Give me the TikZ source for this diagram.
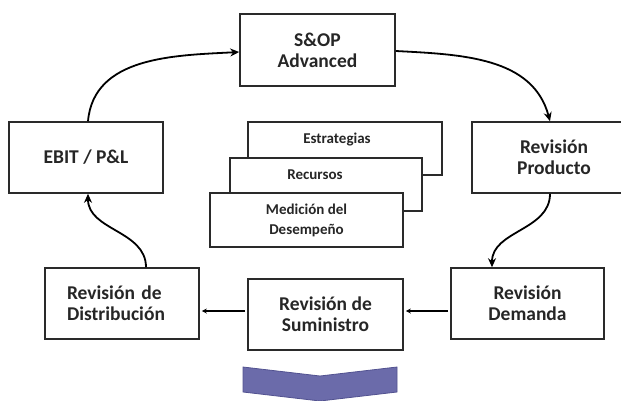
\documentclass[tikz,border=0pt]{standalone}
\usepackage{fontspec}
\setmainfont{Carlito}
\usepackage{xcolor}
\usetikzlibrary{arrows.meta,positioning}
\definecolor{boxline}{HTML}{2A2A2A}
\definecolor{chevfill}{HTML}{6B6BAA}
\definecolor{chevline}{HTML}{525290}

\begin{document}
\begin{tikzpicture}[
  x=1pt, y=-1pt,
  stage/.style={draw=boxline, line width=1.6pt, fill=white, align=center,
    minimum width=154pt, minimum height=71pt, inner sep=0pt,
    font=\fontsize{19.5}{21}\selectfont\bfseries, text=black!85},
  layer/.style={draw=boxline, line width=1.6pt, fill=white, align=center,
    minimum width=193pt, minimum height=53pt, inner sep=0pt,
    font=\fontsize{15}{20}\selectfont\bfseries, text=black!85},
  layertext/.style={font=\fontsize{15}{20}\selectfont\bfseries, text=black!85},
  flow/.style={line width=1.8pt, -{Stealth[length=9pt,width=8pt]}},
  back/.style={line width=1.8pt, -{Stealth[length=5pt,width=5pt]},
    shorten >=2pt, shorten <=2pt}
]
\clip (0,0) rectangle (621,400);
% main cycle
\node[stage, minimum width=155pt, minimum height=72pt] (sop) at (317.5,50) {S\&OP\\Advanced};
\node[stage] (ebit) at (86,157.5) {EBIT / P\&L};
\node[stage, minimum width=164pt] (prod) at (554,157.5) {Revisión\\Producto};
\node[stage, align=left, text width=110pt] (dist) at (122,303.5) {Revisión de\\Distribución};
\node[stage, minimum width=155pt] (sumi) at (325.5,314.5) {Revisión de\\Suministro};
\node[stage, minimum width=153pt] (dem) at (527.5,303.5) {Revisión\\Demanda};

% stacked layers in the middle
\node[layer, minimum width=194pt] (estr) at (345,148.5) {};
\node[layertext] (estrtxt) at (337,140) {Estrategias};
\node[layer, minimum width=192pt] (recu) at (326,184.5) {};
\node[layertext] (recutxt) at (315,175) {Recursos};
\node[layer, minimum height=54pt] (medi) at (306.5,220) {Medición del\\Desempeño};

\draw[flow] ([xshift=2pt]ebit.north) to[out=85,in=183] ([yshift=-2pt]sop.west);
\draw[flow] ([yshift=-1pt]sop.east) to[out=-3,in=105] ([xshift=-4pt]prod.north);
\draw[flow] ([xshift=-4pt]prod.south) to[out=-90,in=90] ([xshift=-35.5pt]dem.north);
\draw[back] ([yshift=-7.5pt]dem.west) -- ([yshift=-7.5pt]dem.west -| sumi.east);
\draw[back] ([yshift=3.5pt]sumi.west) -- ([yshift=3.5pt]sumi.west -| dist.east);
\draw[flow] ([xshift=24pt]dist.north) to[out=90,in=-90] ([xshift=2pt]ebit.south);

% chevron below
\draw[chevline, fill=chevfill, line width=0.8pt] (243,367) -- (320,376) -- (397,367)
  -- (397,392) -- (320,401) -- (243,392) -- cycle;
\end{tikzpicture}
\end{document}
